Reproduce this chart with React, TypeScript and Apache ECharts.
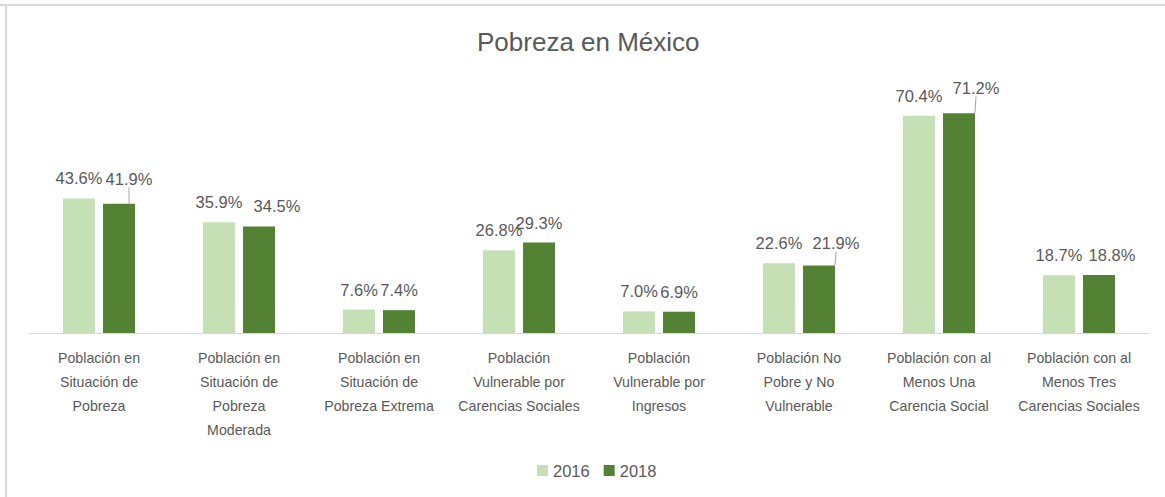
import React, { useEffect, useRef } from "react";
import * as echarts from "echarts";

const categories = [
  "Población en\nSituación de\nPobreza",
  "Población en\nSituación de\nPobreza\nModerada",
  "Población en\nSituación de\nPobreza Extrema",
  "Población\nVulnerable por\nCarencias Sociales",
  "Población\nVulnerable por\nIngresos",
  "Población No\nPobre y No\nVulnerable",
  "Población con al\nMenos Una\nCarencia Social",
  "Población con al\nMenos Tres\nCarencias Sociales",
];
const values2016 = [43.6, 35.9, 7.6, 26.8, 7.0, 22.6, 70.4, 18.7];
const values2018 = [41.9, 34.5, 7.4, 29.3, 6.9, 21.9, 71.2, 18.8];
const seriesNames = ["2016", "2018"];
const titleText = "Pobreza en México";

// label placement tweaks (layout only)
const shift2018 = [
  { dx: 10, dy: -5, line: true },
  { dx: 18, dy: 0, line: false },
  { dx: 0, dy: 0, line: false },
  { dx: 0, dy: 0, line: false },
  { dx: 0, dy: 0, line: false },
  { dx: 17, dy: -2, line: true },
  { dx: 17, dy: -5, line: true },
  { dx: 13, dy: 0, line: false },
];

const FONT = "'Liberation Sans', Arial, sans-serif";
const TEXT = "#595959";

export default function App() {
  const ref = useRef<HTMLDivElement>(null);
  useEffect(() => {
    if (!ref.current) return;
    const chart = echarts.init(ref.current, null, { renderer: "svg" });
    const labelCommon = {
      show: true,
      position: "top",
      distance: 12,
      fontSize: 16.5,
      lineHeight: 16,
      fontFamily: FONT,
      color: TEXT,
      formatter: (p: any) => Number(p.value).toFixed(1) + "%",
    };
    chart.setOption({
      animation: false,
      backgroundColor: "#ffffff",
      title: {
        text: titleText,
        left: 472,
        top: 24,
        textStyle: { fontSize: 26, fontWeight: "normal", color: TEXT, fontFamily: FONT },
      },
      legend: {
        data: seriesNames,
        left: 532,
        top: 457,
        itemWidth: 11,
        itemHeight: 11,
        itemGap: 14,
        icon: "rect",
        textStyle: { fontSize: 16.5, color: TEXT, fontFamily: FONT },
      },
      graphic: [
        { type: "line", shape: { x1: 0, y1: 5, x2: 1165, y2: 5 }, style: { stroke: "#d9d9d9", lineWidth: 2 } },
        { type: "line", shape: { x1: 6, y1: 4, x2: 6, y2: 497 }, style: { stroke: "#d9d9d9", lineWidth: 2 } },
      ],
      grid: { left: 29, right: 16, top: 86, bottom: 164, containLabel: false, outerBoundsMode: "none" },
      xAxis: {
        type: "category",
        data: categories,
        axisTick: { show: false },
        axisLine: { lineStyle: { color: "#d9d9d9", width: 1 } },
        axisLabel: {
          interval: 0,
          margin: 13,
          fontSize: 14.2,
          lineHeight: 24,
          color: TEXT,
          fontFamily: FONT,
          align: "center",
        },
      },
      yAxis: {
        type: "value",
        min: 0,
        max: 80,
        show: false,
        splitLine: { show: false },
      },
      series: [
        {
          name: seriesNames[0],
          type: "bar",
          data: values2016,
          barWidth: 32,
          barGap: "25%",
          itemStyle: { color: "#c5e0b4" },
          label: labelCommon,
        },
        {
          name: seriesNames[1],
          type: "bar",
          data: values2018.map((v, i) => ({ value: v, labelLine: { show: shift2018[i].line } })),
          barWidth: 32,
          barGap: "25%",
          itemStyle: { color: "#548235" },
          label: labelCommon,
          labelLine: { show: true, lineStyle: { color: "#a6a6a6", width: 1 } },
          labelLayout: (params: any) => {
            const s = shift2018[params.dataIndex] || { dx: 0, dy: 0 };
            return { dx: s.dx, dy: s.dy };
          },
        },
      ],
    });
    return () => chart.dispose();
  }, []);
  return (
    <div
      ref={ref}
      style={{ position: "absolute", left: 0, top: 0, width: 1165, height: 497, background: "#fff" }}
    />
  );
}
